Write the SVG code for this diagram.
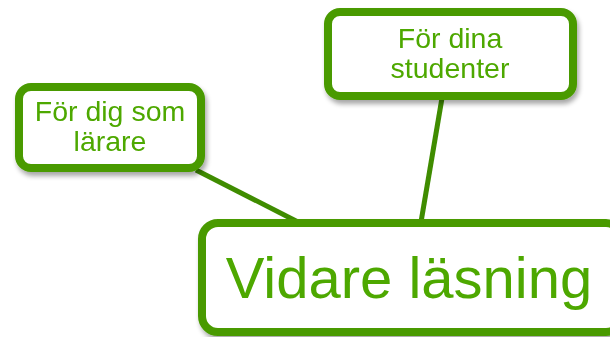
<svg xmlns="http://www.w3.org/2000/svg" width="610" height="337" viewBox="0 0 610 337">
<style>
.box{fill:#fff;stroke:#4a9a00;stroke-width:8}
.t{font-family:"Liberation Sans",Arial,sans-serif;fill:#4ea800;text-anchor:middle}
.c{stroke:#3f8c00;stroke-width:5;fill:none}
</style>
<defs>
<filter id="sh" x="-10%" y="-10%" width="130%" height="140%">
<feGaussianBlur in="SourceAlpha" stdDeviation="2.5"/>
<feOffset dx="2" dy="4" result="b"/>
<feComponentTransfer><feFuncA type="linear" slope="0.35"/></feComponentTransfer>
<feMerge><feMergeNode/><feMergeNode in="SourceGraphic"/></feMerge>
</filter>
</defs>
<g id="connectors">
<line class="c" x1="196" y1="170" x2="298" y2="222"/>
<line class="c" x1="442" y1="98" x2="421" y2="222"/>
</g>
<g id="node-larare" filter="url(#sh)">
<rect class="box" x="19" y="87" width="182" height="81" rx="12"/>
<text class="t" font-size="28.5" x="110" y="121">För dig som</text>
<text class="t" font-size="28.5" x="110" y="151">lärare</text>
</g>
<g id="node-studenter" filter="url(#sh)">
<rect class="box" x="328" y="12" width="245" height="84" rx="12"/>
<text class="t" font-size="28.5" x="450" y="48">För dina</text>
<text class="t" font-size="28.5" x="450" y="78">studenter</text>
</g>
<g id="node-vidare" filter="url(#sh)">
<rect class="box" x="202" y="223" width="420" height="109" rx="16"/>
<text class="t" font-size="58" x="409" y="298">Vidare läsning</text>
</g>
</svg>
